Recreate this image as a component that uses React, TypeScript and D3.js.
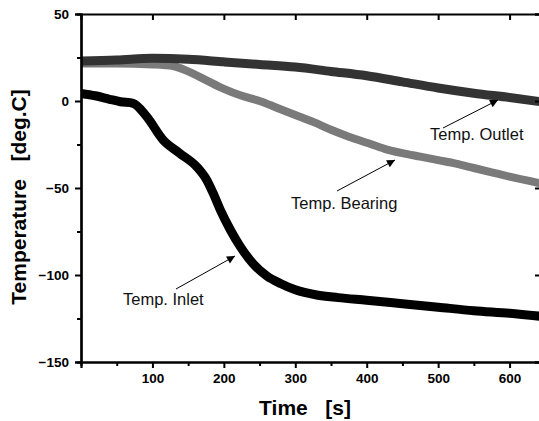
import React, { useRef, useEffect } from 'react';
import * as d3 from 'd3';

// time [s] and temperatures [deg.C]
const inletTime = [0, 20, 40, 55, 73, 92, 115, 138, 162, 176, 185, 195, 209, 223, 241, 260, 280, 300, 330, 360, 400, 450, 500, 550, 600, 645];
const inletTemp = [4.4, 3, 1, -0.4, -1.3, -9, -22.4, -30, -37.8, -45.4, -53, -62.6, -74, -83.7, -93.5, -100.5, -105, -108.5, -111.5, -113, -114.5, -116.5, -118.5, -120.5, -122, -123.8];

const outletTime = [0, 50, 100, 150, 200, 250, 300, 350, 400, 450, 500, 550, 600, 645];
const outletTemp = [23, 23.5, 24.5, 24, 22.5, 21, 19.5, 17, 14.5, 11, 7.5, 4.5, 2, -0.5];

const bearingTime = [0, 50, 100, 130, 150, 175, 200, 225, 250, 275, 300, 325, 350, 375, 400, 425, 450, 475, 500, 525, 550, 575, 600, 645];
const bearingTemp = [21.5, 21.5, 21, 20, 17, 12, 7, 3, 0, -4, -8, -12, -16.5, -20.5, -24, -27.5, -30, -32, -34, -36, -38.5, -41, -43.5, -47.5];

const xTicks = [100, 200, 300, 400, 500, 600];
const xMinor = [50, 150, 250, 350, 450, 550];
const yTicks = [-150, -100, -50, 0, 50];
const yMinor = [-125, -75, -25, 25];

const labels = ['Temp. Outlet', 'Temp. Bearing', 'Temp. Inlet'];

function TempChart() {
    const ref = useRef<SVGSVGElement>(null);

    useEffect(() => {
        const svg = d3.select(ref.current);
        svg.selectAll('*').remove();

        const x = d3.scaleLinear().domain([0, 644]).range([81, 541]);
        const y = d3.scaleLinear().domain([-150, 50]).range([362, 14]);

        const defs = svg.append('defs');
        defs.append('marker')
            .attr('id', 'arrow')
            .attr('viewBox', '0 0 10 10')
            .attr('refX', 10).attr('refY', 5)
            .attr('markerWidth', 10).attr('markerHeight', 8)
            .attr('markerUnits', 'userSpaceOnUse')
            .attr('orient', 'auto')
            .append('path').attr('d', 'M0,0 L10,5 L0,10 z').attr('fill', '#000');
        defs.append('clipPath').attr('id', 'plotclip')
            .append('rect').attr('x', 81).attr('y', 14).attr('width', 460).attr('height', 348);

        const line = d3.line<[number, number]>()
            .x(d => x(d[0]))
            .y(d => y(d[1]))
            .curve(d3.curveMonotoneX);

        const series = [
            { t: bearingTime, v: bearingTemp, color: '#7a7a7a', w: 8 },
            { t: outletTime, v: outletTemp, color: '#333333', w: 9 },
            { t: inletTime, v: inletTemp, color: '#000000', w: 9 },
        ];
        const g = svg.append('g').attr('clip-path', 'url(#plotclip)');
        series.forEach(s => {
            g.append('path')
                .datum(s.t.map((t, i) => [t, s.v[i]] as [number, number]))
                .attr('d', line)
                .attr('fill', 'none')
                .attr('stroke', s.color)
                .attr('stroke-width', s.w)
                .attr('stroke-linejoin', 'round');
        });

        // axes
        const font = 'Liberation Sans, Arial, sans-serif';
        const bottom = svg.append('g').attr('transform', 'translate(0,362)')
            .call(d3.axisBottom(x).tickValues(xTicks).tickSize(6).tickPadding(5).tickFormat(d3.format('d')));
        svg.append('g').attr('transform', 'translate(0,362)')
            .call(d3.axisBottom(x).tickValues(xMinor).tickSize(4).tickFormat(() => ''));
        const left = svg.append('g').attr('transform', 'translate(81,0)')
            .call(d3.axisLeft(y).tickValues(yTicks).tickSize(6).tickPadding(6).tickFormat(d3.format('d')));
        svg.append('g').attr('transform', 'translate(81,0)')
            .call(d3.axisLeft(y).tickValues(yMinor).tickSize(4).tickFormat(() => ''));
        svg.append('g').attr('transform', 'translate(0,14)')
            .call(d3.axisBottom(x).tickValues(xTicks).tickSize(6).tickFormat(() => ''));
        svg.append('g').attr('transform', 'translate(541,0)')
            .call(d3.axisLeft(y).tickValues(yTicks).tickSize(6).tickFormat(() => ''));

        svg.selectAll('.domain').attr('stroke', '#000').attr('stroke-width', 2.2);
        svg.selectAll('.tick line').attr('stroke', '#000').attr('stroke-width', 2);
        [bottom, left].forEach(a => a.selectAll('text')
            .attr('font-family', font).attr('font-size', 13.5).attr('font-weight', 'bold').attr('fill', '#000'));

        // axis titles
        svg.append('text')
            .attr('x', 305).attr('y', 415)
            .attr('text-anchor', 'middle')
            .attr('font-family', font).attr('font-size', 21).attr('font-weight', 'bold')
            .attr('xml:space', 'preserve')
            .text('Time   [s]');
        svg.append('text')
            .attr('transform', 'translate(26,197) rotate(-90)')
            .attr('text-anchor', 'middle')
            .attr('font-family', font).attr('font-size', 21).attr('font-weight', 'bold')
            .attr('xml:space', 'preserve')
            .text('Temperature   [deg.C]');

        // annotations
        const ann = [
            { text: labels[0], tx: 430, ty: 140, from: [443, 128], to: [498, 100] },
            { text: labels[1], tx: 291, ty: 209, from: [337, 191], to: [395, 160] },
            { text: labels[2], tx: 123, ty: 305, from: [176, 289], to: [235, 256] },
        ];
        ann.forEach(a => {
            svg.append('text')
                .attr('x', a.tx).attr('y', a.ty)
                .attr('font-family', font).attr('font-size', 16.5)
                .attr('fill', '#111')
                .text(a.text);
            svg.append('line')
                .attr('x1', a.from[0]).attr('y1', a.from[1])
                .attr('x2', a.to[0]).attr('y2', a.to[1])
                .attr('stroke', '#000').attr('stroke-width', 1)
                .attr('marker-end', 'url(#arrow)');
        });
    }, []);

    return (
        <svg ref={ref} width="539" height="421"
            style={{ position: 'absolute', left: 0, top: 0, background: '#fff' }} />
    );
}

export default function App() {
    return <TempChart />;
}
